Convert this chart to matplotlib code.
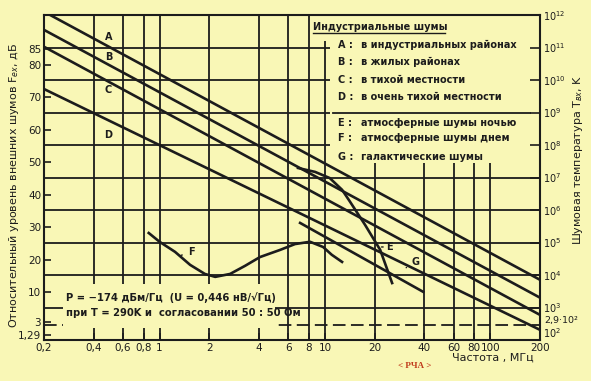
import numpy as np
import matplotlib.pyplot as plt
from matplotlib.patches import Rectangle
from matplotlib.ticker import NullLocator

# frequency axis (MHz)
freq_ticks = [0.2, 0.4, 0.6, 0.8, 1, 2, 4, 6, 8, 10, 20, 40, 60, 80, 100, 200]
freq_tick_labels = ['0,2', '0,4', '0,6', '0,8', '1', '2', '4', '6', '8', '10',
                    '20', '40', '60', '80', '100', '200']
grid_freqs = [0.4, 0.6, 0.8, 1, 2, 4, 6, 8, 10, 20, 40, 60, 80, 100]

# left axis labels (dB) as printed
db_ticks = [85, 80, 70, 60, 50, 40, 30, 20, 10, 1, -3]
db_tick_labels = ['85', '80', '70', '60', '50', '40', '30', '20', '10', '3', '1,29']

# right axis: noise temperature, K
temp_exponents = [2, 3, 4, 5, 6, 7, 8, 9, 10, 11, 12]
ref_temp_label = '2,9·10²'

# industrial noise, straight lines (f, dB)
line_f = [0.2, 200]
a_db = [96.4, 13.9]
b_db = [90.8, 8.4]
c_db = [85.6, 3.1]
d_db = [72.6, -1.5]

# atmospheric noise, night
e_f = [6.88, 8.72, 10.7, 12.7, 14.2, 17.5, 21.6, 25.5]
e_db = [48.3, 47.1, 45.2, 41.6, 37.9, 30.8, 23.1, 12.9]

# atmospheric noise, day
f_f = [0.86, 1.0, 1.24, 1.53, 1.88, 2.17, 2.67, 3.29, 4.05, 5.36, 6.6, 8.13, 9.75, 11.0, 12.7]
f_db = [28.3, 25.6, 22.5, 18.5, 15.7, 14.8, 15.7, 18.2, 20.9, 23.1, 24.9, 25.6, 24.0, 21.6, 19.4]

# galactic noise
g_f = [7.08, 39.3]
g_db = [31.4, 10.2]

legend_keys = ['A', 'B', 'C', 'D', 'E', 'F', 'G']
legend_texts = ['в индустриальных районах', 'в жилых районах', 'в тихой местности',
                'в очень тихой местности', 'атмосферные шумы ночью',
                'атмосферные шумы днем', 'галактические шумы']
legend_rows = [86.2, 80.9, 75.4, 70.2, 62.2, 57.6, 51.8]


def t_to_db(t):
    return 10 * np.log10(t / 290.0)


bg = '#f9f7b6'
ink = '#1c1c1c'
plt.rcParams['font.family'] = ['DejaVu Sans']

fig = plt.figure(figsize=(5.91, 3.81), dpi=100, facecolor=bg)
ax = fig.add_axes([44 / 591, 1 - 340 / 381, 496 / 591, 325 / 381])
ax.set_facecolor(bg)
ax.set_xscale('log')
ax.set_xlim(0.2, 200)
ax.set_ylim(t_to_db(1e2), t_to_db(1e12))

# grid
for f in grid_freqs:
    ax.axvline(f, color=ink, lw=1.3, zorder=1)
for k in temp_exponents[1:-1]:
    ax.axhline(t_to_db(10 ** k), color=ink, lw=1.3, zorder=1)
ax.axhline(0, color=ink, lw=1.3, ls=(0, (7, 3)), zorder=1)

# blank areas for the note and the legend
ax.add_patch(Rectangle((0.26, -0.8), 5.0 - 0.26, 13.3, facecolor=bg, edgecolor='none', zorder=2))
ax.add_patch(Rectangle((10.8, 49.8), 200 - 10.8, 50, facecolor=bg, edgecolor='none', zorder=2))
ax.add_patch(Rectangle((8.3, 87.5), 10.8 - 8.3, 10, facecolor=bg, edgecolor='none', zorder=2))

# curves
lw = 1.9
for vals in (a_db, b_db, c_db, d_db):
    ax.plot(line_f, vals, color=ink, lw=lw, zorder=3)
ax.plot(e_f, e_db, color=ink, lw=lw, zorder=3)
ax.plot(f_f, f_db, color=ink, lw=lw, zorder=3)
ax.plot(g_f, g_db, color=ink, lw=lw, zorder=3)

# curve labels
lab = dict(fontsize=7, fontweight='bold', color=ink, zorder=4)
for key, yv in zip(['A', 'B', 'C', 'D'], [88.6, 82.5, 72.3, 58.5]):
    ax.text(0.49, yv, key, ha='center', va='center', **lab)
ax.annotate('F', xy=(1.3, 21.2), xytext=(1.48, 22.3), ha='left', va='center',
            arrowprops=dict(arrowstyle='-', color=ink, lw=1), **lab)
ax.annotate('E', xy=(22.0, 24.0), xytext=(23.4, 24.0), ha='left', va='center',
            arrowprops=dict(arrowstyle='-', color=ink, lw=1), **lab)
ax.annotate('G', xy=(30.0, 17.2), xytext=(33.5, 19.3), ha='left', va='center',
            arrowprops=dict(arrowstyle='-', color=ink, lw=1), **lab)

# note
note = dict(fontsize=7.2, fontweight='bold', color=ink, zorder=4, ha='left', va='center')
ax.text(0.27, 8.3, 'P = −174 дБм/Гц  (U = 0,446 нВ/√Гц)', **note)
ax.text(0.27, 3.6, 'при T = 290K и  согласовании 50 : 50 Ом', **note)

# legend
ax.text(8.5, 90.8, 'Индустриальные шумы', fontsize=7, fontweight='bold', color=ink,
        va='baseline', zorder=4)
ax.plot([8.5, 53], [89.7, 89.7], color=ink, lw=1, zorder=4)
ax.plot([11.2, 173], [t_to_db(1e9)] * 2, color=ink, lw=1.3, zorder=4)
for key, txt, yv in zip(legend_keys, legend_texts, legend_rows):
    ax.text(12.0, yv, key + ' :', fontsize=7, fontweight='bold', color=ink, va='center', zorder=4)
    ax.text(16.6, yv, txt, fontsize=7, fontweight='bold', color=ink, va='center', zorder=4)

# axes
for s in ax.spines.values():
    s.set_color(ink)
    s.set_linewidth(1.5)
ax.set_xticks(freq_ticks)
ax.set_xticklabels(freq_tick_labels)
ax.xaxis.set_minor_locator(NullLocator())
ax.set_yticks(db_ticks)
ax.set_yticklabels(db_tick_labels)
ax.tick_params(direction='in', length=5, width=1.2, color=ink, labelsize=7.5,
               labelcolor=ink, pad=2)

ax2 = ax.twinx()
ax2.set_ylim(ax.get_ylim())
ax2.set_yticks([t_to_db(10 ** k) for k in temp_exponents])
ax2.set_yticklabels(['$10^{%d}$' % k for k in temp_exponents])
ax2.tick_params(direction='in', length=7, width=1.2, color=ink, labelsize=7,
                labelcolor=ink, pad=2)
ax2.get_yticklabels()[0].set_va('bottom')
for s in ax2.spines.values():
    s.set_visible(False)
# label for the 290 K reference level, sitting on the dashed line
ax2.annotate(ref_temp_label, xy=(1, 0), xycoords=('axes fraction', 'data'),
             xytext=(3, 3), textcoords='offset points', ha='left', va='center',
             fontsize=6.8, color=ink)

fig.text(14 / 591, 1 - 185 / 381, 'Относительный уровень внешних шумов F$_{ех}$, дБ',
         rotation=90, ha='center', va='center', fontsize=8, color=ink)
fig.text(578 / 591, 1 - 160 / 381, 'Шумовая температура T$_{вх}$, K',
         rotation=90, ha='center', va='center', fontsize=8, color=ink)
fig.text(493 / 591, 1 - 358 / 381, 'Частота , МГц', ha='center', va='center',
         fontsize=8, color=ink)
fig.text(415 / 591, 1 - 366 / 381, '< РЧА >', ha='center', va='center',
         fontsize=6.5, fontweight='bold', family='Liberation Serif', color='#c0391b')

fig.savefig('out.png', dpi=100, facecolor=bg)
